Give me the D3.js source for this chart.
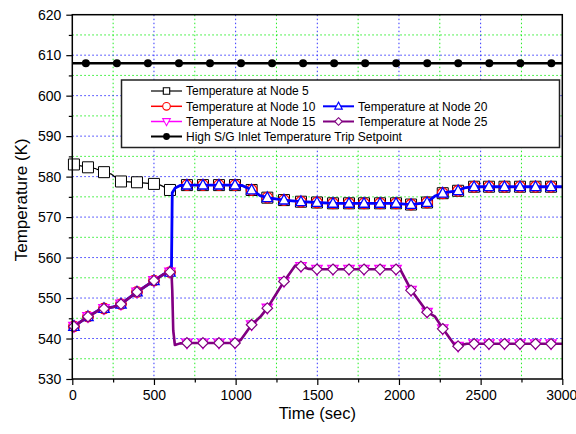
<!DOCTYPE html>
<html>
<head>
<meta charset="utf-8">
<script src="https://cdn.jsdelivr.net/npm/d3@7"></script>
<style>
  html, body { margin: 0; padding: 0; background: #fff; }
  svg { display: block; font-family: "Liberation Sans", Arial, sans-serif; }
</style>
</head>
<body>
<svg id="chart" width="576" height="434"></svg>
<script>
// ---- data: time in seconds, temperature in K ----
const xTicks = [0, 500, 1000, 1500, 2000, 2500, 3000];
const xMinor = [250, 750, 1250, 1750, 2250, 2750];
const yTicks = [530, 540, 550, 560, 570, 580, 590, 600, 610, 620];
const yMinor = [535, 545, 555, 565, 575, 585, 595, 605, 615];

// Node 5 before the transient
const node5Pre = [[0,583.3],[10,583.0],[60,582.6],[96,582.3],[140,582.0],[194,581.1],[240,580.6],
  [298,578.8],[396,578.6],[500,578.2],[540,577.9],[598,576.7]];
// nodes 10/15/20/25 before the transient
const lowerPre = [[0,542.3],[10,543.0],[96,545.4],[166,547.1],[196,547.4],[251,547.8],[298,548.5],
  [396,551.5],[500,554.3],[560,555.9],[598,556.4],[607,556.6]];
// hot-side nodes (5, 10, 20) after the transient
const upperPost = [[612,576.0],[630,577.2],[660,577.8],[696,577.9],[796,577.9],[894,577.9],[996,577.9],
  [1040,577.8],[1098,576.7],[1150,575.3],[1194,574.8],[1296,574.2],[1400,573.8],[1500,573.6],
  [1596,573.4],[1694,573.4],[1786,573.4],[1884,573.4],[1980,573.4],[2072,573.1],[2170,573.6],
  [2220,575.2],[2266,575.9],[2310,576.2],[2360,576.5],[2400,577.2],[2452,577.5],[2550,577.5],
  [2646,577.5],[2741,577.5],[2836,577.5],[2931,577.5],[3000,577.5]];
// cold-side nodes (15, 25) after the transient
const lowerPost = [[612,552.0],[618,542.0],[628,538.4],[660,538.8],[700,538.9],[800,538.9],[900,538.9],
  [996,538.9],[1030,539.6],[1098,543.4],[1150,545.3],[1194,547.5],[1296,554.1],[1364,558.0],
  [1400,557.8],[1450,557.2],[1500,557.1],[1596,557.1],[1694,557.1],[1786,557.1],[1884,557.1],
  [1982,557.1],[2006,557.2],[2074,552.0],[2172,546.6],[2221,545.4],[2268,542.5],[2343,538.3],
  [2362,538.2],[2415,538.7],[2460,538.7],[2551,538.7],[2646,538.7],[2741,538.7],[2836,538.7],
  [2931,538.7],[3000,538.7]];

// symbol times and values for the node curves
const markTime = [10,96,194,298,396,500,598,702,800,898,996,1098,1194,1296,1400,1498,1596,1694,
  1786,1884,1982,2074,2172,2268,2362,2460,2551,2646,2741,2836,2931];
const node5Mark = [583.0,582.3,581.1,578.8,578.6,578.2,576.7,577.9,577.9,577.9,577.9,576.7,574.8,
  574.2,573.8,573.6,573.4,573.4,573.4,573.4,573.4,573.1,573.6,575.9,576.5,577.5,577.5,577.5,
  577.5,577.5,577.5];
const node10Mark = [543.0,545.4,547.4,548.5,551.5,554.3,556.4,577.9,577.9,577.9,577.9,576.7,574.8,
  574.2,573.8,573.6,573.4,573.4,573.4,573.4,573.4,573.1,573.6,575.9,576.5,577.5,577.5,577.5,
  577.5,577.5,577.5];
const node20Mark = node10Mark;
const node15Mark = [543.0,545.4,547.4,548.5,551.5,554.3,556.4,538.9,538.9,538.9,538.9,543.4,547.5,
  554.1,557.8,557.1,557.1,557.1,557.1,557.1,557.1,551.9,546.5,542.4,538.1,538.7,538.7,538.7,
  538.7,538.7,538.7];
const node25Mark = node15Mark;

// trip setpoint
const setpointValue = 608.0;
const setpointLine = [[0, setpointValue], [3000, setpointValue]];
const setpointMarkTime = [83,273,463,653,843,1033,1223,1413,1603,1793,1983,2173,2363,2553,2743,2933];

// ---- layout ----
const svg = d3.select("#chart");
const plotL = 72.3, plotR = 562.3, plotT = 14.7, plotB = 379;
const x = d3.scaleLinear().domain([0, 3000]).range([plotL, plotR]);
const y = d3.scaleLinear().domain([530, 620]).range([plotB, plotT]);

// symbol path builders (half-size s)
const shapes = {
  square: s => `M${-s},${-s}H${s}V${s}H${-s}Z`,
  circle: s => `M${s},0A${s},${s} 0 1,1 ${-s},0A${s},${s} 0 1,1 ${s},0Z`,
  up: s => `M0,${-s*1.1}L${s},${s*0.75}L${-s},${s*0.75}Z`,
  down: s => `M0,${s*1.1}L${s},${-s*0.75}L${-s},${-s*0.75}Z`,
  diamond: s => `M0,${-s}L${s},0L0,${s}L${-s},0Z`
};

// ---- grid ----
const grid = svg.append("g");
grid.selectAll(".gxm").data(xMinor).join("line")
  .attr("x1", d => x(d)).attr("x2", d => x(d)).attr("y1", plotT).attr("y2", plotB)
  .attr("stroke", "#22ee22").attr("stroke-width", 1).attr("stroke-dasharray", "1.5,2.5");
grid.selectAll(".gym").data(yMinor).join("line")
  .attr("x1", plotL).attr("x2", plotR).attr("y1", d => y(d)).attr("y2", d => y(d))
  .attr("stroke", "#22ee22").attr("stroke-width", 1).attr("stroke-dasharray", "1.5,2.5");
grid.selectAll(".gx").data(xTicks.slice(1, -1)).join("line")
  .attr("x1", d => x(d)).attr("x2", d => x(d)).attr("y1", plotT).attr("y2", plotB)
  .attr("stroke", "#3333ff").attr("stroke-width", 1).attr("stroke-dasharray", "1.5,2.5");
grid.selectAll(".gy").data(yTicks.slice(1, -1)).join("line")
  .attr("x1", plotL).attr("x2", plotR).attr("y1", d => y(d)).attr("y2", d => y(d))
  .attr("stroke", "#3333ff").attr("stroke-width", 1).attr("stroke-dasharray", "1.5,2.5");

// ---- series ----
const line = d3.line().x(d => x(d[0])).y(d => y(d[1]));
const series = [
  { name: "Temperature at Node 5", path: node5Pre.concat(upperPost), mark: node5Mark,
    color: "#000000", lw: 1.2, shape: "square", size: 5.5, msw: 1 },
  { name: "Temperature at Node 10", path: lowerPre.concat(upperPost), mark: node10Mark,
    color: "#ff0000", lw: 1.5, shape: "circle", size: 5.3, msw: 1.3 },
  { name: "Temperature at Node 20", path: lowerPre.concat(upperPost), mark: node20Mark,
    color: "#0000ff", lw: 2.8, shape: "up", size: 5.2, msw: 1.3 },
  { name: "Temperature at Node 15", path: lowerPre.concat(lowerPost), mark: node15Mark,
    color: "#ff00ff", lw: 1.5, shape: "down", size: 5.2, msw: 1.3 },
  { name: "Temperature at Node 25", path: lowerPre.concat(lowerPost), mark: node25Mark,
    color: "#800080", lw: 2.6, shape: "diamond", size: 5.3, msw: 1.2 }
];

series.forEach(s => {
  const g = svg.append("g");
  g.append("path").datum(s.path).attr("d", line)
    .attr("fill", "none").attr("stroke", s.color).attr("stroke-width", s.lw)
    .attr("stroke-linejoin", "round");
  g.selectAll("path.m").data(markTime.map((t, i) => [t, s.mark[i]])).join("path")
    .attr("class", "m")
    .attr("transform", d => `translate(${x(d[0])},${y(d[1])})`)
    .attr("d", shapes[s.shape](s.size))
    .attr("fill", "#fff").attr("stroke", s.color).attr("stroke-width", s.msw);
});

// setpoint
const sp = svg.append("g");
sp.append("path").datum(setpointLine).attr("d", line)
  .attr("fill", "none").attr("stroke", "#000").attr("stroke-width", 2.4);
sp.selectAll("circle").data(setpointMarkTime).join("circle")
  .attr("cx", d => x(d)).attr("cy", y(setpointValue)).attr("r", 4).attr("fill", "#000");

// ---- axes ----
const fontTick = "14px";
const xAxisG = svg.append("g").attr("transform", `translate(0,${plotB})`)
  .call(d3.axisBottom(x).tickValues(xTicks).tickSize(6).tickPadding(5).tickFormat(d3.format("d")));
svg.append("g").attr("transform", `translate(0,${plotB})`)
  .call(d3.axisBottom(x).tickValues(xMinor).tickSize(3.5).tickFormat(""));
svg.append("g").attr("transform", `translate(${plotL},0)`)
  .call(d3.axisLeft(y).tickValues(yTicks).tickSize(6).tickPadding(5).tickFormat(d3.format("d")));
svg.append("g").attr("transform", `translate(${plotL},0)`)
  .call(d3.axisLeft(y).tickValues(yMinor).tickSize(3.5).tickFormat(""));
svg.selectAll(".domain").remove();
svg.selectAll(".tick line").attr("stroke", "#000").attr("stroke-width", 1.2);
svg.selectAll(".tick text").attr("font-size", fontTick).attr("fill", "#000")
  .attr("font-family", "Liberation Sans, Arial, sans-serif");
// keep the last time label inside the canvas
xAxisG.selectAll(".tick text").filter(d => d === 3000).attr("text-anchor", "end").attr("dx", "14.5");

// frame
svg.append("rect").attr("x", plotL).attr("y", plotT).attr("width", plotR - plotL).attr("height", plotB - plotT)
  .attr("fill", "none").attr("stroke", "#000").attr("stroke-width", 1.5);

// axis titles
svg.append("text").attr("x", (plotL + plotR) / 2).attr("y", 419)
  .attr("text-anchor", "middle").attr("font-size", "16.5px").text("Time (sec)");
svg.append("text").attr("transform", `translate(27,${(plotT + plotB) / 2 + 3}) rotate(-90)`)
  .attr("text-anchor", "middle").attr("font-size", "17px").text("Temperature (K)");

// ---- legend ----
const lg = svg.append("g");
lg.append("rect").attr("x", 121.5).attr("y", 80).attr("width", 438).attr("height", 67.5)
  .attr("fill", "#fff").attr("stroke", "#222").attr("stroke-width", 1.5);
const legendItems = [
  { s: series[0], col: 0, row: 0 },
  { s: series[1], col: 0, row: 1 },
  { s: series[2], col: 1, row: 1 },
  { s: series[3], col: 0, row: 2 },
  { s: series[4], col: 1, row: 2 }
];
const rowY = [91, 106.3, 121.5, 136.5];
const colX = [151, 323];
legendItems.forEach(it => {
  const cx = colX[it.col], cy = rowY[it.row];
  lg.append("line").attr("x1", cx).attr("x2", cx + 31).attr("y1", cy).attr("y2", cy)
    .attr("stroke", it.s.color).attr("stroke-width", Math.min(it.s.lw, 2));
  lg.append("path").attr("transform", `translate(${cx + 15.5},${cy})`)
    .attr("d", shapes[it.s.shape](it.s.shape === "square" ? 3.2 : 3.8))
    .attr("fill", "#fff").attr("stroke", it.s.color).attr("stroke-width", 1.1);
  lg.append("text").attr("x", cx + 35).attr("y", cy).attr("dy", "0.36em")
    .attr("font-size", "12px").text(it.s.name);
});
lg.append("line").attr("x1", colX[0]).attr("x2", colX[0] + 31).attr("y1", rowY[3]).attr("y2", rowY[3])
  .attr("stroke", "#000").attr("stroke-width", 2);
lg.append("circle").attr("cx", colX[0] + 15.5).attr("cy", rowY[3]).attr("r", 3.4).attr("fill", "#000");
lg.append("text").attr("x", colX[0] + 35).attr("y", rowY[3]).attr("dy", "0.36em")
  .attr("font-size", "12px").text("High S/G Inlet Temperature Trip Setpoint");
</script>
</body>
</html>
